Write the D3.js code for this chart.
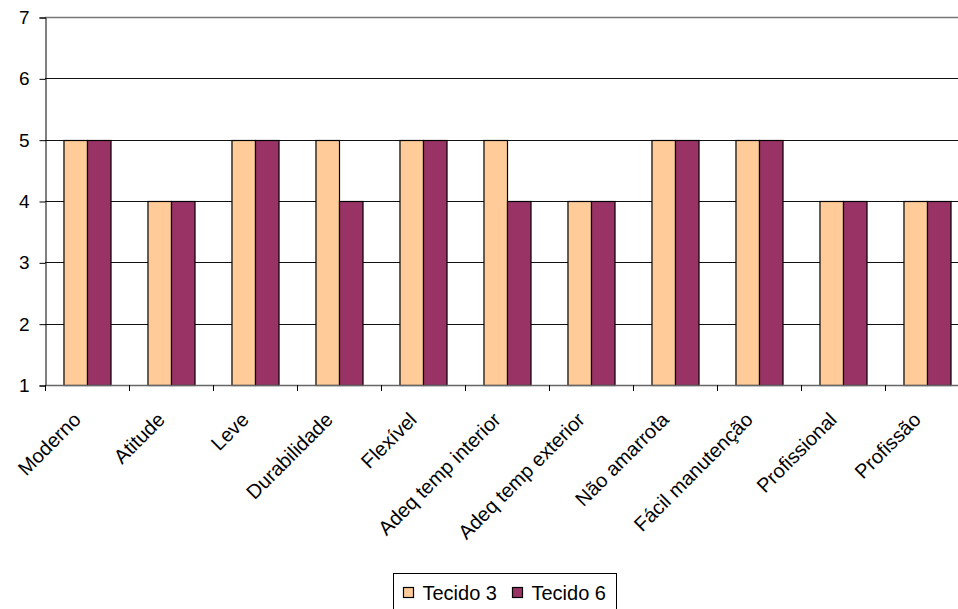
<!DOCTYPE html>
<html>
<head>
<meta charset="utf-8">
<script src="https://cdn.jsdelivr.net/npm/d3@7"></script>
<style>
  html, body { margin: 0; padding: 0; background: #fff; overflow: hidden; }
  svg { display: block; font-family: "Liberation Sans", Arial, sans-serif; }
</style>
</head>
<body>
<svg id="chart" width="958" height="609"></svg>
<script>
// Category labels along the x axis
const categories = [
  "Moderno", "Atitude", "Leve", "Durabilidade", "Flexível",
  "Adeq temp interior", "Adeq temp exterior", "Não amarrota",
  "Fácil manutenção", "Profissional", "Profissão"
];
// Series values
const tecido3 = [5, 4, 5, 5, 5, 5, 4, 5, 5, 4, 4];
const tecido6 = [5, 4, 5, 4, 5, 4, 4, 5, 5, 4, 4];
const seriesNames = ["Tecido 3", "Tecido 6"];
const seriesColors = ["#FFCC99", "#993366"];
// Y axis ticks
const yTicks = [1, 2, 3, 4, 5, 6, 7];

const svg = d3.select("#chart");
const plot = { left: 45, right: 969, top: 17, bottom: 385 };

const x = d3.scaleBand()
  .domain(categories)
  .range([plot.left, plot.right])
  .paddingInner(0.44)
  .paddingOuter(0.22);

const xSeries = d3.scaleBand()
  .domain(seriesNames)
  .range([0, x.bandwidth()]);

const y = d3.scaleLinear()
  .domain([1, 7])
  .range([plot.bottom, plot.top]);

// Horizontal gridlines
svg.append("g")
  .selectAll("line")
  .data(yTicks.filter(d => d > 1))
  .join("line")
  .attr("x1", plot.left)
  .attr("x2", plot.right)
  .attr("y1", d => Math.round(y(d)) + 0.5)
  .attr("y2", d => Math.round(y(d)) + 0.5)
  .attr("stroke", d => d === 7 ? "#777" : "#111")
  .attr("stroke-width", d => d === 7 ? 1.6 : 1);

// Bars
const rows = categories.map((c, i) => ({ c, vals: [tecido3[i], tecido6[i]] }));
const groups = svg.append("g")
  .selectAll("g")
  .data(rows)
  .join("g")
  .attr("transform", d => `translate(${x(d.c)},0)`);

groups.selectAll("rect")
  .data(d => d.vals.map((v, k) => ({ v, name: seriesNames[k], color: seriesColors[k] })))
  .join("rect")
  .attr("x", d => xSeries(d.name) + 0.5)
  .attr("width", xSeries.bandwidth())
  .attr("y", d => Math.round(y(d.v)) + 0.5)
  .attr("height", d => y(1) - Math.round(y(d.v)))
  .attr("fill", d => d.color)
  .attr("stroke", "#000")
  .attr("stroke-width", 1.2);

// Y axis
const yAxis = d3.axisLeft(y)
  .tickValues(yTicks)
  .tickFormat(d3.format("d"))
  .tickSize(6)
  .tickPadding(10);

const gy = svg.append("g")
  .attr("transform", `translate(${plot.left + 0.5},0.5)`)
  .call(yAxis);
gy.select(".domain").attr("stroke", "#000");
gy.selectAll(".tick line").attr("stroke", "#000");
gy.selectAll(".tick text")
  .attr("font-size", 19)
  .attr("fill", "#000")
  .attr("font-family", "Liberation Sans, Arial, sans-serif");

// X axis: baseline with ticks at category boundaries
const step = x.step();
const boundaries = d3.range(categories.length + 1).map(i => plot.left + i * step);
svg.append("line")
  .attr("x1", plot.left)
  .attr("x2", plot.right)
  .attr("y1", plot.bottom + 0.5)
  .attr("y2", plot.bottom + 0.5)
  .attr("stroke", "#666")
  .attr("stroke-width", 1.4);
svg.append("g")
  .selectAll("line")
  .data(boundaries)
  .join("line")
  .attr("x1", d => Math.round(d) + 0.5)
  .attr("x2", d => Math.round(d) + 0.5)
  .attr("y1", plot.bottom)
  .attr("y2", plot.bottom + 6)
  .attr("stroke", "#000");

// Rotated category labels
svg.append("g")
  .selectAll("text")
  .data(categories)
  .join("text")
  .attr("transform", d => {
    const cx = x(d) + x.bandwidth() / 2 - 5;
    return `translate(${cx},${plot.bottom + 36}) rotate(-45)`;
  })
  .attr("text-anchor", "end")
  .attr("font-size", 20)
  .attr("fill", "#000")
  .text(d => d);

// Legend
const legend = svg.append("g").attr("transform", "translate(393.5,573.5)");
legend.append("rect")
  .attr("width", 223)
  .attr("height", 45)
  .attr("fill", "#fff")
  .attr("stroke", "#000");
const items = legend.selectAll("g.item")
  .data(seriesNames)
  .join("g")
  .attr("class", "item")
  .attr("transform", (d, i) => `translate(${10 + i * 109},14)`);
items.append("rect")
  .attr("width", 10)
  .attr("height", 10)
  .attr("fill", (d, i) => seriesColors[i])
  .attr("stroke", "#000")
  .attr("stroke-width", 1.2);
items.append("text")
  .attr("x", 19)
  .attr("y", 5)
  .attr("dy", "0.35em")
  .attr("font-size", 20)
  .attr("fill", "#000")
  .text(d => d);
</script>
</body>
</html>
